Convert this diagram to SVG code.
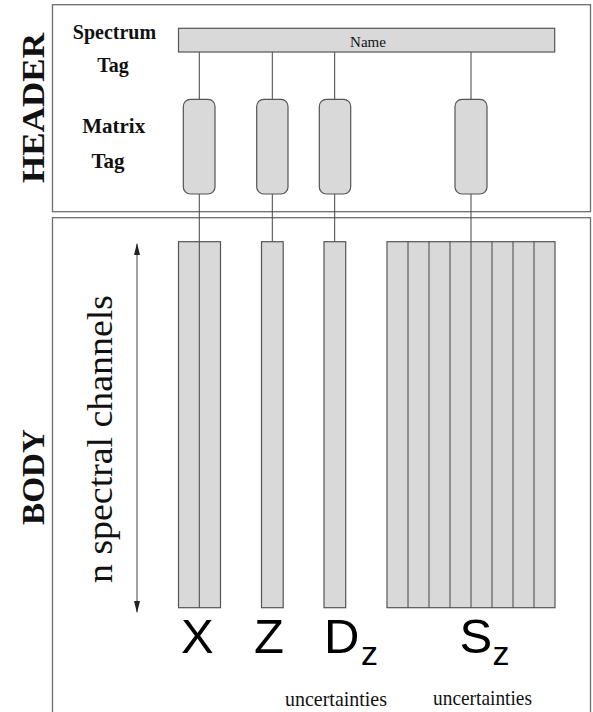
<svg xmlns="http://www.w3.org/2000/svg" width="593" height="712" viewBox="0 0 593 712">
  <style>
    .frame { fill: none; stroke: #6e6e6e; stroke-width: 1.3; }
    .box { fill: #d9d9d9; stroke: #555; stroke-width: 1.2; }
    .div { stroke: #444; stroke-width: 1; }
    .conn { stroke: #444; stroke-width: 1; fill: none; }
    .serif { font-family: "Liberation Serif", "Times New Roman", serif; fill: #111; }
    .bold { font-weight: bold; }
    .sans { font-family: "Liberation Sans", Arial, sans-serif; fill: #000; }
  </style>
  <defs>
    <marker id="ah" viewBox="0 0 12 6" refX="11" refY="3" markerWidth="12" markerHeight="6" markerUnits="userSpaceOnUse" orient="auto-start-reverse">
      <path d="M0,0 L12,3 L0,6 Z" fill="#222"/>
    </marker>
  </defs>
  <rect width="593" height="712" fill="#fff"/>

  <g id="header-section">
    <rect class="frame" x="52.5" y="4.7" width="538" height="207"/>
    <text class="serif bold" font-size="32" textLength="150" lengthAdjust="spacingAndGlyphs" transform="translate(43.5,183) rotate(-90)">HEADER</text>
    <text class="serif bold" font-size="20" x="114.5" y="39" text-anchor="middle">Spectrum</text>
    <text class="serif bold" font-size="20" x="113" y="71.7" text-anchor="middle">Tag</text>
    <text class="serif bold" font-size="21" x="113.7" y="133.3" text-anchor="middle">Matrix</text>
    <text class="serif bold" font-size="21" x="108" y="168.3" text-anchor="middle">Tag</text>
  </g>

  <g id="body-section">
    <rect class="frame" x="52.5" y="217.7" width="538" height="510"/>
    <text class="serif bold" font-size="32" textLength="96" lengthAdjust="spacingAndGlyphs" transform="translate(43.5,525) rotate(-90)">BODY</text>
    <text class="serif" font-size="35" textLength="288" lengthAdjust="spacingAndGlyphs" transform="translate(112,583) rotate(-90)">n spectral channels</text>
  </g>

  <g id="connectors">
    <line class="conn" x1="199.3" y1="52" x2="199.3" y2="241.7"/>
    <line class="conn" x1="272.3" y1="52" x2="272.3" y2="241.7"/>
    <line class="conn" x1="334.7" y1="52" x2="334.7" y2="241.7"/>
    <line class="conn" x1="471" y1="52" x2="471" y2="241.7"/>
    <line class="conn" x1="137" y1="244" x2="137" y2="612" marker-start="url(#ah)" marker-end="url(#ah)"/>
  </g>

  <g id="name-tag">
    <rect class="box" x="178.5" y="28.3" width="376.2" height="23.7"/>
    <text class="serif" font-size="15" x="368" y="46.5" text-anchor="middle">Name</text>
  </g>

  <g id="matrix-tag-x"><rect class="box" x="183.3" y="99.3" width="31.7" height="94.7" rx="7"/></g>
  <g id="matrix-tag-z"><rect class="box" x="256.7" y="99.3" width="31.3" height="94.7" rx="7"/></g>
  <g id="matrix-tag-dz"><rect class="box" x="319.3" y="99.3" width="31.4" height="94.7" rx="7"/></g>
  <g id="matrix-tag-sz"><rect class="box" x="455" y="99.3" width="32" height="94.7" rx="7"/></g>

  <g id="matrix-x">
    <rect class="box" x="178.5" y="241.7" width="42" height="366"/>
    <line class="div" x1="199.3" y1="241.7" x2="199.3" y2="607.7"/>
    <text class="sans" font-size="49" x="181" y="652.7">X</text>
  </g>

  <g id="matrix-z">
    <rect class="box" x="261.5" y="241.7" width="21.7" height="366"/>
    <text class="sans" font-size="49" x="254" y="652.7">Z</text>
  </g>

  <g id="matrix-dz">
    <rect class="box" x="324" y="241.7" width="21.7" height="366"/>
    <text class="sans" font-size="49" x="324" y="652.7">D</text>
    <text class="sans" font-size="34" x="361" y="665">z</text>
    <text class="serif" font-size="22" textLength="102" lengthAdjust="spacingAndGlyphs" x="285" y="706">uncertainties</text>
  </g>

  <g id="matrix-sz">
    <rect class="box" x="387" y="241.7" width="168" height="366"/>
    <line class="div" x1="408" y1="241.7" x2="408" y2="607.7"/>
    <line class="div" x1="429" y1="241.7" x2="429" y2="607.7"/>
    <line class="div" x1="450" y1="241.7" x2="450" y2="607.7"/>
    <line class="div" x1="471" y1="241.7" x2="471" y2="607.7"/>
    <line class="div" x1="492" y1="241.7" x2="492" y2="607.7"/>
    <line class="div" x1="513" y1="241.7" x2="513" y2="607.7"/>
    <line class="div" x1="534" y1="241.7" x2="534" y2="607.7"/>
    <text class="sans" font-size="49" x="459.5" y="652.7">S</text>
    <text class="sans" font-size="34" x="492.5" y="665">z</text>
    <text class="serif" font-size="22" textLength="99" lengthAdjust="spacingAndGlyphs" x="433" y="705">uncertainties</text>
  </g>
</svg>
